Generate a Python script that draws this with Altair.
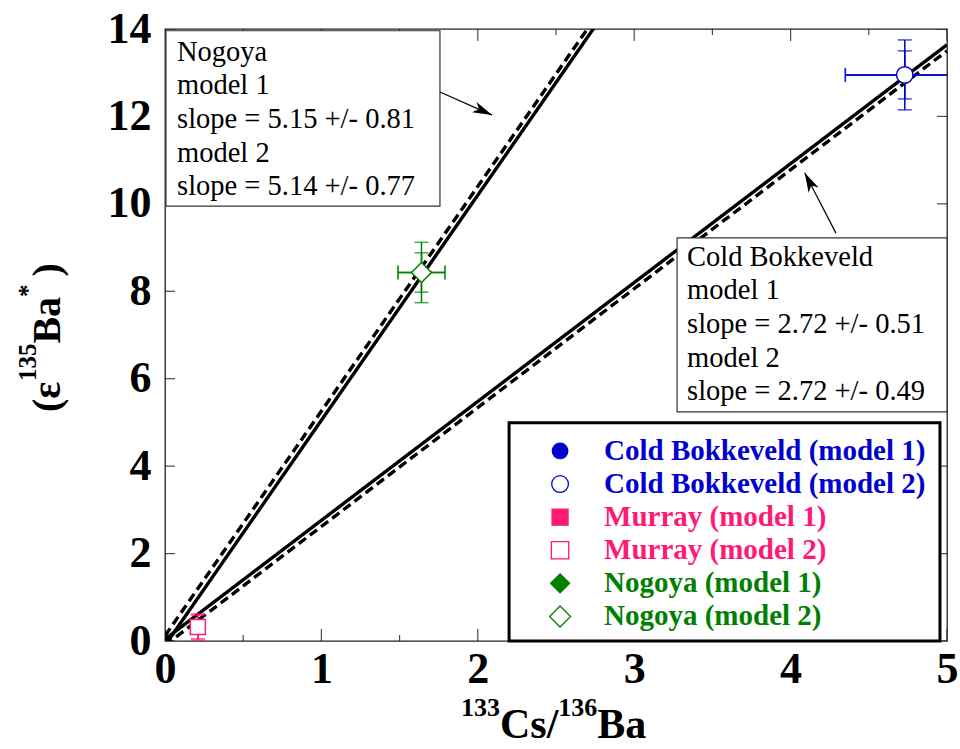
import math
import altair as alt
import pandas as pd

# ---- measured 135Ba excess vs 133Cs/136Ba for three CM chondrites ----
meteorites = ["Cold Bokkeveld", "Murray", "Nogoya"]
cs_ba = [4.73, 0.21, 1.64]
cs_ba_err = [0.38, 0.03, 0.15]
eps_ba = [12.95, 0.32, 8.43]
eps_err_model1 = [0.80, 0.30, 0.69]
eps_err_model2 = [0.55, 0.27, 0.45]
series_colors = ["#0000cf", "#ff1a75", "#008000"]
series_shapes = ["circle", "square", "diamond"]
models = ["model 1", "model 2"]

# ---- isochron fits (model 1 solid, model 2 dashed) ----
fit_names = ["Nogoya", "Nogoya", "Cold Bokkeveld", "Cold Bokkeveld"]
fit_models = ["model 1", "model 2", "model 1", "model 2"]
fit_slopes = [5.15, 5.14, 2.72, 2.72]
fit_slope_err = [0.81, 0.77, 0.51, 0.49]
fit_intercepts = [-0.10, 0.12, 0.04, -0.10]

# ---- axes ----
x_ticks = [0, 1, 2, 3, 4, 5]
x_minor = [0.5, 1.5, 2.5, 3.5, 4.5]
y_ticks = [0, 2, 4, 6, 8, 10, 12, 14]
XMAX, YMAX = 5, 14

W, H = 782, 612
PX = W / XMAX          # pixels per x unit
PY = H / YMAX          # pixels per y unit
SERIF = "Liberation Serif"

xs = alt.Scale(domain=[0, XMAX], nice=False, zero=False)
ys = alt.Scale(domain=[0, YMAX], nice=False, zero=False)
xaxis = alt.Axis(values=x_ticks, format="d", labelFont=SERIF, labelFontWeight="bold",
                 labelFontSize=44, labelColor="black", labelPadding=6, ticks=False,
                 domain=False, grid=False, title=None, labelFlush=False)
yaxis = alt.Axis(values=y_ticks, format="d", labelFont=SERIF, labelFontWeight="bold",
                 labelFontSize=44, labelColor="black", labelPadding=14, ticks=False,
                 domain=False, grid=False, title=None, labelFlush=False)


def X(field):
    return alt.X(field, type="quantitative", scale=xs, axis=xaxis)


def Y(field):
    return alt.Y(field, type="quantitative", scale=ys, axis=yaxis)


color_scale = alt.Scale(domain=meteorites, range=series_colors)
shape_scale = alt.Scale(domain=meteorites, range=series_shapes)
marker_area = {"circle": 272, "square": 225, "diamond": 400}
legend_area = {"circle": 280, "square": 300, "diamond": 440}

# ---- frame ticks, pointing inward (half of each tick is clipped) ----
vt = pd.DataFrame(
    [{"x": v, "y": yy, "len": 24} for v in x_ticks for yy in (0, YMAX)]
    + [{"x": v, "y": yy, "len": 12} for v in x_minor for yy in (0, YMAX)]
)
ht = pd.DataFrame([{"x": xx, "y": v, "len": 20} for v in y_ticks for xx in (0, XMAX)])
vticks = alt.Chart(vt).mark_tick(orient="vertical", clip=True, color="black", thickness=1.2).encode(
    x=X("x"), y=Y("y"), size=alt.Size("len:Q", scale=None))
hticks = alt.Chart(ht).mark_tick(orient="horizontal", clip=True, color="black", thickness=1.2).encode(
    x=X("x"), y=Y("y"), size=alt.Size("len:Q", scale=None))

# ---- fit lines ----
fit_rows = []
for i, (n, m, s, b) in enumerate(zip(fit_names, fit_models, fit_slopes, fit_intercepts)):
    for xv in (0, XMAX):
        fit_rows.append({"fit": f"{n} {m}", "model": m, "x": xv, "y": b + s * xv})
fits = alt.Chart(pd.DataFrame(fit_rows)).mark_line(clip=True, color="black", strokeWidth=3.4).encode(
    x=X("x"), y=Y("y"), detail="fit:N",
    strokeDash=alt.StrokeDash("model:N", scale=alt.Scale(domain=models, range=[[1, 0], [9, 5]]),
                              legend=None))

# ---- annotation boxes with fit results ----
def fit_lines(name):
    out = [name]
    for n, m, s, e in zip(fit_names, fit_models, fit_slopes, fit_slope_err):
        if n == name:
            out += [m, f"slope = {s:.2f} +/- {e:.2f}"]
    return out


boxes = pd.DataFrame([
    {"x": 0.006, "x2": 1.758, "y": 13.96, "y2": 9.95},
    {"x": 3.274, "x2": 5.0, "y": 9.22, "y2": 5.24},
])
box_marks = alt.Chart(boxes).mark_rect(fill="white", stroke="#333", strokeWidth=1.2).encode(
    x=X("x"), x2="x2", y=Y("y"), y2="y2")

ann_rows = []
for name, x0, y0 in (("Nogoya", 0.077, 13.48), ("Cold Bokkeveld", 3.338, 8.79)):
    for k, t in enumerate(fit_lines(name)):
        ann_rows.append({"x": x0, "y": y0 - k * 33.6 / PY, "t": t})
ann_text = alt.Chart(pd.DataFrame(ann_rows)).mark_text(
    align="left", baseline="middle", font=SERIF, fontSize=28.5, color="black").encode(
    x=X("x"), y=Y("y"), text="t:N")

# ---- arrows from boxes to their lines ----
arrows = pd.DataFrame([
    {"x": 1.758, "y": 12.56, "x2": 2.091, "y2": 12.03},
    {"x": 4.29, "y": 9.33, "x2": 4.09, "y2": 10.71},
])
arrows["angle"] = [
    math.degrees(math.atan2((r.x2 - r.x) * PX, (r.y2 - r.y) * PY)) % 360 for r in arrows.itertuples()
]
arrow_shafts = alt.Chart(arrows).mark_rule(color="black", strokeWidth=1.2).encode(
    x=X("x"), y=Y("y"), x2="x2", y2="y2")
head_path = "M0,0L-0.55,1.9L0,1.4L0.55,1.9Z"
arrow_heads = alt.Chart(arrows).mark_point(shape=head_path, filled=True, color="black",
                                           size=420, opacity=1).encode(
    x=X("x2"), y=Y("y2"), angle=alt.Angle("angle:Q", scale=None))

# ---- data points with error bars ----
rows = []
for i, m in enumerate(meteorites):
    for model, err in (("model 1", eps_err_model1[i]), ("model 2", eps_err_model2[i])):
        rows.append({"meteorite": m, "model": model, "x": cs_ba[i], "y": eps_ba[i],
                     "xlo": cs_ba[i] - cs_ba_err[i], "xhi": cs_ba[i] + cs_ba_err[i],
                     "ylo": eps_ba[i] - err, "yhi": eps_ba[i] + err,
                     "area": marker_area[series_shapes[i]]})
pts = pd.DataFrame(rows)
col = alt.Color("meteorite:N", scale=color_scale, legend=None)
ybars = alt.Chart(pts).mark_rule(strokeWidth=1.5, clip=True).encode(
    x=X("x"), y=Y("ylo"), y2="yhi", color=col)
xbars = alt.Chart(pts).mark_rule(strokeWidth=1.5, clip=True).encode(
    x=X("xlo"), x2="xhi", y=Y("y"), color=col)
ycaps = alt.layer(*[
    alt.Chart(pts).mark_tick(orient="horizontal", size=14, thickness=1.5, clip=True).encode(
        x=X("x"), y=Y(f), color=col) for f in ("ylo", "yhi")])
xcaps = alt.layer(*[
    alt.Chart(pts).mark_tick(orient="vertical", size=14, thickness=1.5, clip=True).encode(
        x=X(f), y=Y("y"), color=col) for f in ("xlo", "xhi")])
shp = alt.Shape("meteorite:N", scale=shape_scale, legend=None)
filled_pts = alt.Chart(pts[pts.model == "model 1"]).mark_point(filled=True, opacity=1).encode(
    x=X("x"), y=Y("y"), color=col, shape=shp, size=alt.Size("area:Q", scale=None))
open_pts = alt.Chart(pts[pts.model == "model 2"]).mark_point(
    filled=True, fill="white", strokeWidth=1.5, opacity=1).encode(
    x=X("x"), y=Y("y"), shape=shp, size=alt.Size("area:Q", scale=None),
    stroke=alt.Stroke("meteorite:N", scale=color_scale, legend=None))

# ---- key ----
key_rows = []
for i, m in enumerate(meteorites):
    for j, model in enumerate(models):
        k = 2 * i + j
        key_rows.append({"meteorite": m, "label": f"{m} ({model})", "filled": j == 0,
                         "y": 4.347 - k * 33.1 / PY, "xs": 2.526, "xt": 2.807,
                         "area": legend_area[series_shapes[i]]})
key = pd.DataFrame(key_rows)
key_box = alt.Chart(pd.DataFrame([{"x": 2.20, "x2": 4.955, "y": 4.99, "y2": 0.0}])).mark_rect(
    fill="white", stroke="black", strokeWidth=3).encode(x=X("x"), x2="x2", y=Y("y"), y2="y2")
key_filled = alt.Chart(key[key.filled]).mark_point(filled=True, opacity=1).encode(
    x=X("xs"), y=Y("y"), color=col, shape=shp, size=alt.Size("area:Q", scale=None))
key_open = alt.Chart(key[~key.filled]).mark_point(
    filled=True, fill="white", strokeWidth=1.3, opacity=1).encode(
    x=X("xs"), y=Y("y"), shape=shp, size=alt.Size("area:Q", scale=None),
    stroke=alt.Stroke("meteorite:N", scale=color_scale, legend=None))
key_text = alt.Chart(key).mark_text(align="left", baseline="middle", font=SERIF,
                                    fontWeight="bold", fontSize=29).encode(
    x=X("xt"), y=Y("y"), text="label:N", color=col)

# ---- axis titles with superscripts ----
EM = {"(": 0.333, ")": 0.333, "\u03b5": 0.44, "B": 0.667, "a": 0.5, "*": 0.5,
      "C": 0.722, "s": 0.389, "/": 0.278}


def width(t, size):
    return sum(EM.get(c, 0.5) for c in t) * size


title_layers = []
# x title: 133Cs/136Ba
BIG, SUP = 42, 26
pos = 296
for t, sup in (("133", True), ("Cs/", False), ("136", True), ("Ba", False)):
    size = SUP if sup else BIG
    title_layers.append(
        alt.Chart(pd.DataFrame({"t": [t]})).mark_text(
            align="left", baseline="alphabetic", font=SERIF, fontWeight="bold",
            fontSize=size, color="black").encode(
            x=alt.value(pos), y=alt.value(687 if sup else 709), text="t:N"))
    pos += width(t, size)

# y title: (ε135Ba*)
BIGY, SUPY = 40, 25
pos = 383
for t, sup in (("(", False), ("\u03b5", False), ("135", True), ("Ba", False), ("*", True), (")", False)):
    size = SUPY if sup else BIGY
    if t == ")":
        pos -= 8
    title_layers.append(
        alt.Chart(pd.DataFrame({"t": [t]})).mark_text(
            align="left", baseline="alphabetic", font=SERIF, fontWeight="bold",
            fontSize=size, color="black", angle=270).encode(
            x=alt.value(-129 if sup else -105), y=alt.value(pos), text="t:N"))
    pos -= width(t, size)

chart = alt.layer(
    vticks, hticks, fits, box_marks, ann_text, arrow_shafts, arrow_heads,
    ybars, xbars, ycaps, xcaps, filled_pts, open_pts,
    key_box, key_filled, key_open, key_text, *title_layers,
).properties(
    width=W, height=H,
    autosize=alt.AutoSizeParams(type="none"),
    padding={"left": 165, "top": 29, "right": 13, "bottom": 108},
    background="white",
).configure_view(stroke="#222", strokeWidth=1.3)

chart.save("out.html", embed_options={"renderer": "svg", "actions": False})
